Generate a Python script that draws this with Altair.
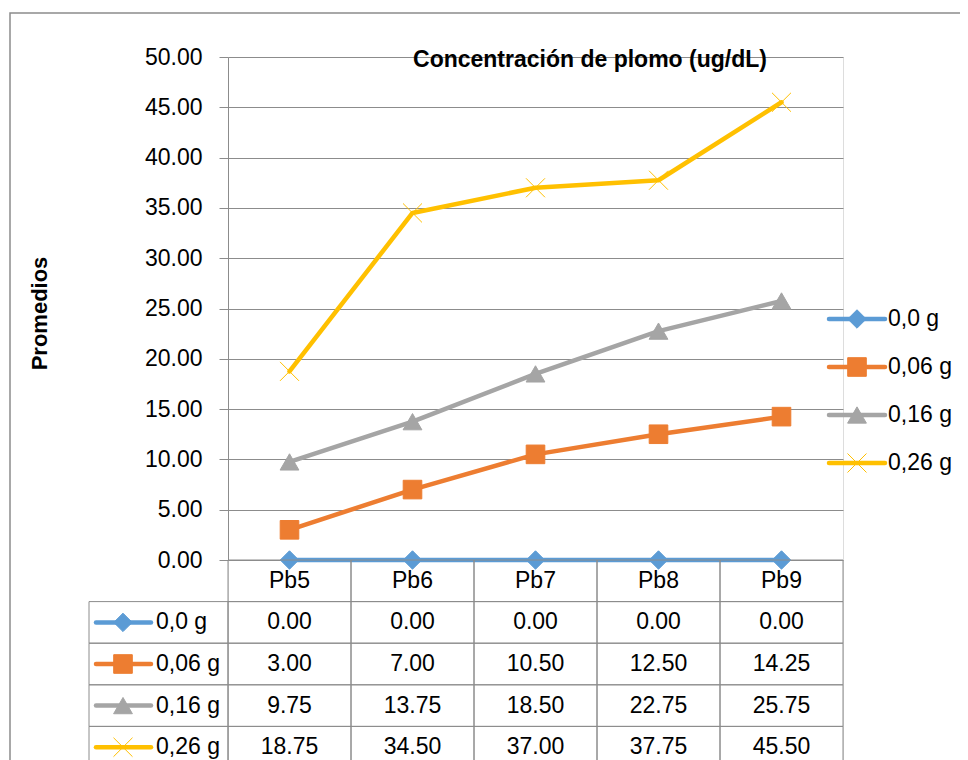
import altair as alt
import pandas as pd

# ---------------- data ----------------
categories = ["Pb5", "Pb6", "Pb7", "Pb8", "Pb9"]
series = ["0,0 g", "0,06 g", "0,16 g", "0,26 g"]
vals_00 = [0.00, 0.00, 0.00, 0.00, 0.00]
vals_006 = [3.00, 7.00, 10.50, 12.50, 14.25]
vals_016 = [9.75, 13.75, 18.50, 22.75, 25.75]
vals_026 = [18.75, 34.50, 37.00, 37.75, 45.50]
all_vals = [vals_00, vals_006, vals_016, vals_026]
y_ticks = [0, 5, 10, 15, 20, 25, 30, 35, 40, 45, 50]
chart_title = "Concentración de plomo (ug/dL)"
y_title = "Promedios"

# ---------------- style ----------------
colors = ["#5B9BD5", "#ED7D31", "#A5A5A5", "#FFC000"]
shapes = ["diamond", "square", "triangle-up", "M-1,-1L1,1M-1,1L1,-1"]
stroke_widths = [1, 1, 1, 2.4]
marker_sizes = [340, 360, 380, 420]
GRAY = "#8C8C8C"
FONT = "Liberation Sans"
FS = 23
HDR = " "

W = 615          # plot width
H = 760 - 57     # plot height (extends through the data table)
PLOT_H = 503     # height of the value area

# ---------------- tables ----------------
rows = []
for s, vs in zip(series, all_vals):
    for c, v in zip(categories, vs):
        rows.append({"category": c, "series": s, "value": v})
df = pd.DataFrame(rows)

trows = [{"category": c, "row": HDR, "text": c} for c in categories]
for s, vs in zip(series, all_vals):
    for c, v in zip(categories, vs):
        trows.append({"category": c, "row": s, "text": f"{v:.2f}"})
table_df = pd.DataFrame(trows)
series_df = pd.DataFrame({"series": series})
one_df = pd.DataFrame({"label": [chart_title]})

# ---------------- scales ----------------
xs = alt.Scale(type="band", domain=categories, paddingInner=0, paddingOuter=0)
ys = alt.Scale(domain=[0, 50], range=[PLOT_H, 0], nice=False, zero=True)
trow_scale = alt.Scale(type="band", domain=[HDR] + series, range=[503, 711],
                       paddingInner=0, paddingOuter=0)
leg_scale = alt.Scale(type="point", domain=series, range=[262, 406], padding=0)
color_scale = alt.Scale(domain=series, range=colors)
shape_scale = alt.Scale(domain=series, range=shapes)
sw_scale = alt.Scale(domain=series, range=stroke_widths)
size_scale = alt.Scale(domain=series, range=marker_sizes)

X = alt.X("category:N", scale=xs, axis=None)

border = alt.Chart(one_df).mark_rect(fillOpacity=0, stroke=GRAY, strokeWidth=1.5).encode(
    x=alt.value(-218), x2=alt.value(900), y=alt.value(-44), y2=alt.value(900)
)

title_mark = alt.Chart(one_df).mark_text(
    font=FONT, fontSize=23, fontWeight="bold", color="black", align="center", baseline="alphabetic"
).encode(x=alt.value(362), y=alt.value(10), text="label:N")

lines = alt.Chart(df).mark_line(strokeWidth=4.5, strokeCap="round", strokeJoin="round").encode(
    x=X,
    y=alt.Y("value:Q", scale=ys, axis=alt.Axis(
        values=y_ticks, format=".2f", title=y_title, grid=True,
        gridColor=GRAY, gridWidth=1, domainColor=GRAY, domainWidth=1,
        tickColor=GRAY, tickSize=9, tickWidth=1, labelPadding=17,
        labelFont=FONT, labelFontSize=FS, labelColor="black",
        titleFont=FONT, titleFontSize=22, titleFontWeight="bold", titleColor="black",
        titleX=-189, titleY=256, titleAngle=-90, titleAlign="center", titleBaseline="middle",
    )),
    color=alt.Color("series:N", scale=color_scale, legend=None),
)

def marker_enc():
    return dict(
        fill=alt.Fill("series:N", scale=color_scale, legend=None),
        stroke=alt.Stroke("series:N", scale=color_scale, legend=None),
        shape=alt.Shape("series:N", scale=shape_scale, legend=None),
        strokeWidth=alt.StrokeWidth("series:N", scale=sw_scale, legend=None),
        size=alt.Size("series:N", scale=size_scale, legend=None),
    )

points = alt.Chart(df).mark_point(filled=True, opacity=1).encode(
    x=X, y=alt.Y("value:Q", scale=ys, axis=None), **marker_enc()
)

# data table
cells = alt.Chart(table_df).mark_rect(fillOpacity=0, stroke=GRAY, strokeWidth=1).encode(
    x=X, y=alt.Y("row:N", scale=trow_scale, axis=None)
)
cell_text = alt.Chart(table_df).mark_text(font=FONT, fontSize=FS, color="black", baseline="middle").encode(
    x=X, y=alt.Y("row:N", scale=trow_scale, axis=None), text="text:N"
)
TY = alt.Y("series:N", scale=trow_scale, axis=None)
rh_cells = alt.Chart(series_df).mark_rect(fillOpacity=0, stroke=GRAY, strokeWidth=1).encode(
    x=alt.value(-139), x2=alt.value(0), y=TY
)
rh_rule = alt.Chart(series_df).mark_rule(strokeWidth=4.5, strokeCap="round").encode(
    x=alt.value(-132), x2=alt.value(-77), y=TY,
    color=alt.Color("series:N", scale=color_scale, legend=None),
)
rh_pts = alt.Chart(series_df).mark_point(filled=True, opacity=1).encode(
    x=alt.value(-105), y=TY, **marker_enc()
)
rh_text = alt.Chart(series_df).mark_text(font=FONT, fontSize=FS, color="black", align="left", baseline="middle").encode(
    x=alt.value(-72), y=TY, text="series:N"
)

# legend on the right
LY = alt.Y("series:N", scale=leg_scale, axis=None)
lg_rule = alt.Chart(series_df).mark_rule(strokeWidth=4.5, strokeCap="round").encode(
    x=alt.value(601), x2=alt.value(657), y=LY,
    color=alt.Color("series:N", scale=color_scale, legend=None),
)
lg_pts = alt.Chart(series_df).mark_point(filled=True, opacity=1).encode(
    x=alt.value(629), y=LY, **marker_enc()
)
lg_text = alt.Chart(series_df).mark_text(font=FONT, fontSize=FS, color="black", align="left", baseline="middle").encode(
    x=alt.value(660), y=LY, text="series:N"
)

chart = alt.layer(
    border, lines, points, cells, cell_text, rh_cells, rh_rule, rh_pts, rh_text,
    lg_rule, lg_pts, lg_text, title_mark,
).resolve_scale(
    y="independent"
).properties(
    width=W, height=H,
    autosize=alt.AutoSizeParams(type="none"),
    padding={"left": 220, "top": 49, "right": 117, "bottom": 0},
).configure_view(stroke=None).configure(background="white")

chart.save("out.html", embed_options={"renderer": "svg", "actions": False})
